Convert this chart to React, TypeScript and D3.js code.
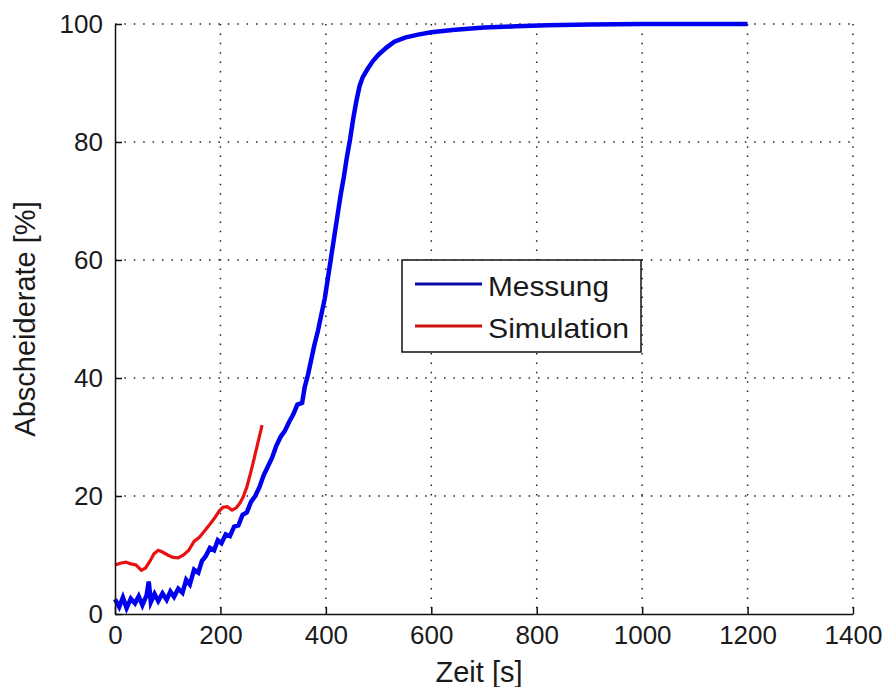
import { useRef, useEffect } from 'react';
import * as d3 from 'd3';

// Messung (measured), time in s, rate in %
const messungT = [0, 8, 15, 22, 30, 38, 45, 52, 60, 64, 68, 75, 82, 90, 98, 105, 112, 120, 128, 135, 142, 150, 158, 165, 172, 180, 188, 195, 202, 210, 218, 226, 234, 242, 250, 258, 266, 274, 282, 290, 298, 306, 314, 322, 330, 338, 346, 355, 360, 366, 372, 378, 385, 392, 398, 404, 410, 416, 422, 428, 434, 440, 446, 452, 458, 464, 470, 480, 490, 500, 515, 530, 550, 575, 600, 640, 700, 760, 820, 900, 1000, 1100, 1200];
const messungV = [2.5, 1.2, 2.8, 1.0, 2.6, 1.8, 3.0, 1.5, 3.2, 5.5, 2.0, 3.4, 2.2, 3.5, 2.4, 3.8, 2.9, 4.3, 3.6, 5.8, 5.0, 7.5, 7.0, 9.0, 9.8, 11.2, 10.8, 12.5, 12.0, 13.5, 13.2, 14.8, 15.0, 16.8, 17.2, 19.0, 20.0, 21.5, 23.5, 25.0, 26.5, 28.5, 30.0, 31.0, 32.5, 33.8, 35.5, 35.8, 38.5, 40.5, 43.0, 45.5, 48.0, 51.0, 53.5, 57.0, 60.5, 64.0, 67.5, 71.0, 74.0, 77.5, 80.5, 84.0, 87.0, 89.5, 91.0, 92.5, 93.8, 94.8, 96.0, 97.0, 97.7, 98.2, 98.6, 99.0, 99.4, 99.6, 99.8, 99.9, 100, 100, 100];

// Simulation
const simT = [0, 10, 20, 30, 40, 50, 58, 66, 74, 82, 90, 100, 110, 120, 130, 140, 150, 160, 171, 180, 190, 198, 205, 213, 222, 230, 237, 243, 250, 256, 262, 267, 271, 275, 279];
const simV = [8.3, 8.6, 8.8, 8.5, 8.3, 7.4, 7.8, 8.9, 10.2, 10.8, 10.5, 10.0, 9.6, 9.5, 10.0, 10.8, 12.3, 13.0, 14.2, 15.2, 16.4, 17.5, 18.1, 18.2, 17.6, 18.0, 18.8, 19.8, 21.5, 23.5, 25.6, 27.5, 29.0, 30.5, 32.0];

const xTicks = [0, 200, 400, 600, 800, 1000, 1200, 1400];
const yTicks = [0, 20, 40, 60, 80, 100];
const legendItems = [
  { label: 'Messung', color: '#0a0aa8', len: 121 },
  { label: 'Simulation', color: '#cc1111', len: 141 },
];

const W = 889;
const H = 687;
const FONT = '"Liberation Sans", Arial, sans-serif';
const INK = '#1a1a1a';

const App = () => {
  const svgRef = useRef<SVGSVGElement | null>(null);

  useEffect(() => {
    if (!svgRef.current) return;
    const root = d3.select(svgRef.current);
    root.selectAll('*').remove();

    const margin = { top: 24, right: 36, bottom: 73, left: 115 };
    const width = W - margin.left - margin.right;
    const height = H - margin.top - margin.bottom;

    const svg = root.append('g').attr('transform', `translate(${margin.left},${margin.top})`);

    const x = d3.scaleLinear().domain([0, 1400]).range([0, width]);
    const y = d3.scaleLinear().domain([0, 100]).range([height, 0]);

    // dotted grid
    svg.append('g')
      .selectAll('line')
      .data(xTicks.slice(1))
      .enter()
      .append('line')
      .attr('x1', d => x(d)).attr('x2', d => x(d))
      .attr('y1', 0).attr('y2', height)
      .attr('stroke', '#222')
      .attr('stroke-width', 1.5)
      .attr('stroke-dasharray', '1.5,7.9');

    svg.append('g')
      .selectAll('line')
      .data(yTicks.slice(1))
      .enter()
      .append('line')
      .attr('x1', 0).attr('x2', width)
      .attr('y1', d => y(d)).attr('y2', d => y(d))
      .attr('stroke', '#222')
      .attr('stroke-width', 1.5)
      .attr('stroke-dasharray', '1.5,7.9');

    const line = d3.line<[number, number]>()
      .x(d => x(d[0]))
      .y(d => y(d[1]));

    const messung: [number, number][] = messungT.map((t, i) => [t, messungV[i]]);
    const sim: [number, number][] = simT.map((t, i) => [t, simV[i]]);

    svg.append('path')
      .datum(messung)
      .attr('fill', 'none')
      .attr('stroke', '#0000f0')
      .attr('stroke-width', 4.5)
      .attr('d', line);

    svg.append('path')
      .datum(sim)
      .attr('fill', 'none')
      .attr('stroke', '#e81010')
      .attr('stroke-width', 3.2)
      .attr('d', line);

    // axes (left + bottom only, ticks inward)
    const xAxis = svg.append('g')
      .attr('transform', `translate(0,${height})`)
      .call(d3.axisBottom(x).tickValues(xTicks).tickFormat(d3.format('d')).tickSizeInner(-7).tickSizeOuter(0).tickPadding(12));
    xAxis.select('.domain').attr('stroke', '#111').attr('stroke-width', 1.5);
    xAxis.selectAll('line').attr('stroke', '#111').attr('stroke-width', 1.5);
    xAxis.selectAll('text')
      .attr('font-family', FONT)
      .attr('font-size', 26)
      .attr('fill', INK);

    const yAxis = svg.append('g')
      .call(d3.axisLeft(y).tickValues(yTicks).tickFormat(d3.format('d')).tickSizeInner(-7).tickSizeOuter(0).tickPadding(12));
    yAxis.select('.domain').attr('stroke', '#111').attr('stroke-width', 1.5);
    yAxis.selectAll('line').attr('stroke', '#111').attr('stroke-width', 1.5);
    yAxis.selectAll('text')
      .attr('font-family', FONT)
      .attr('font-size', 26)
      .attr('fill', INK);

    // axis labels
    svg.append('text')
      .attr('x', x(700) - 5)
      .attr('y', height + 68)
      .attr('text-anchor', 'middle')
      .attr('font-family', FONT)
      .attr('font-size', 29)
      .attr('fill', INK)
      .text('Zeit [s]');

    svg.append('text')
      .attr('transform', `translate(${-80},${y(50)}) rotate(-90)`)
      .attr('text-anchor', 'middle')
      .attr('font-family', FONT)
      .attr('font-size', 29)
      .attr('fill', INK)
      .text('Abscheiderate [%]');

    // legend
    const lg = svg.append('g').attr('transform', `translate(${402 - margin.left},${260 - margin.top})`);
    lg.append('rect')
      .attr('width', 239)
      .attr('height', 92)
      .attr('fill', '#fff')
      .attr('stroke', '#111')
      .attr('stroke-width', 1.5);

    legendItems.forEach((item, i) => {
      const cy = 24 + i * 42;
      lg.append('line')
        .attr('x1', 13).attr('x2', 80)
        .attr('y1', cy).attr('y2', cy)
        .attr('stroke', item.color)
        .attr('stroke-width', 3);
      lg.append('text')
        .attr('x', 86)
        .attr('y', cy + 12)
        .attr('font-family', FONT)
        .attr('font-size', 28)
        .attr('textLength', item.len)
        .attr('lengthAdjust', 'spacingAndGlyphs')
        .attr('fill', INK)
        .text(item.label);
    });
  }, []);

  return (
    <div style={{ position: 'absolute', left: 0, top: 0, width: W, height: H, background: '#fff' }}>
      <svg ref={svgRef} width={W} height={H} />
    </div>
  );
};

export default App;
